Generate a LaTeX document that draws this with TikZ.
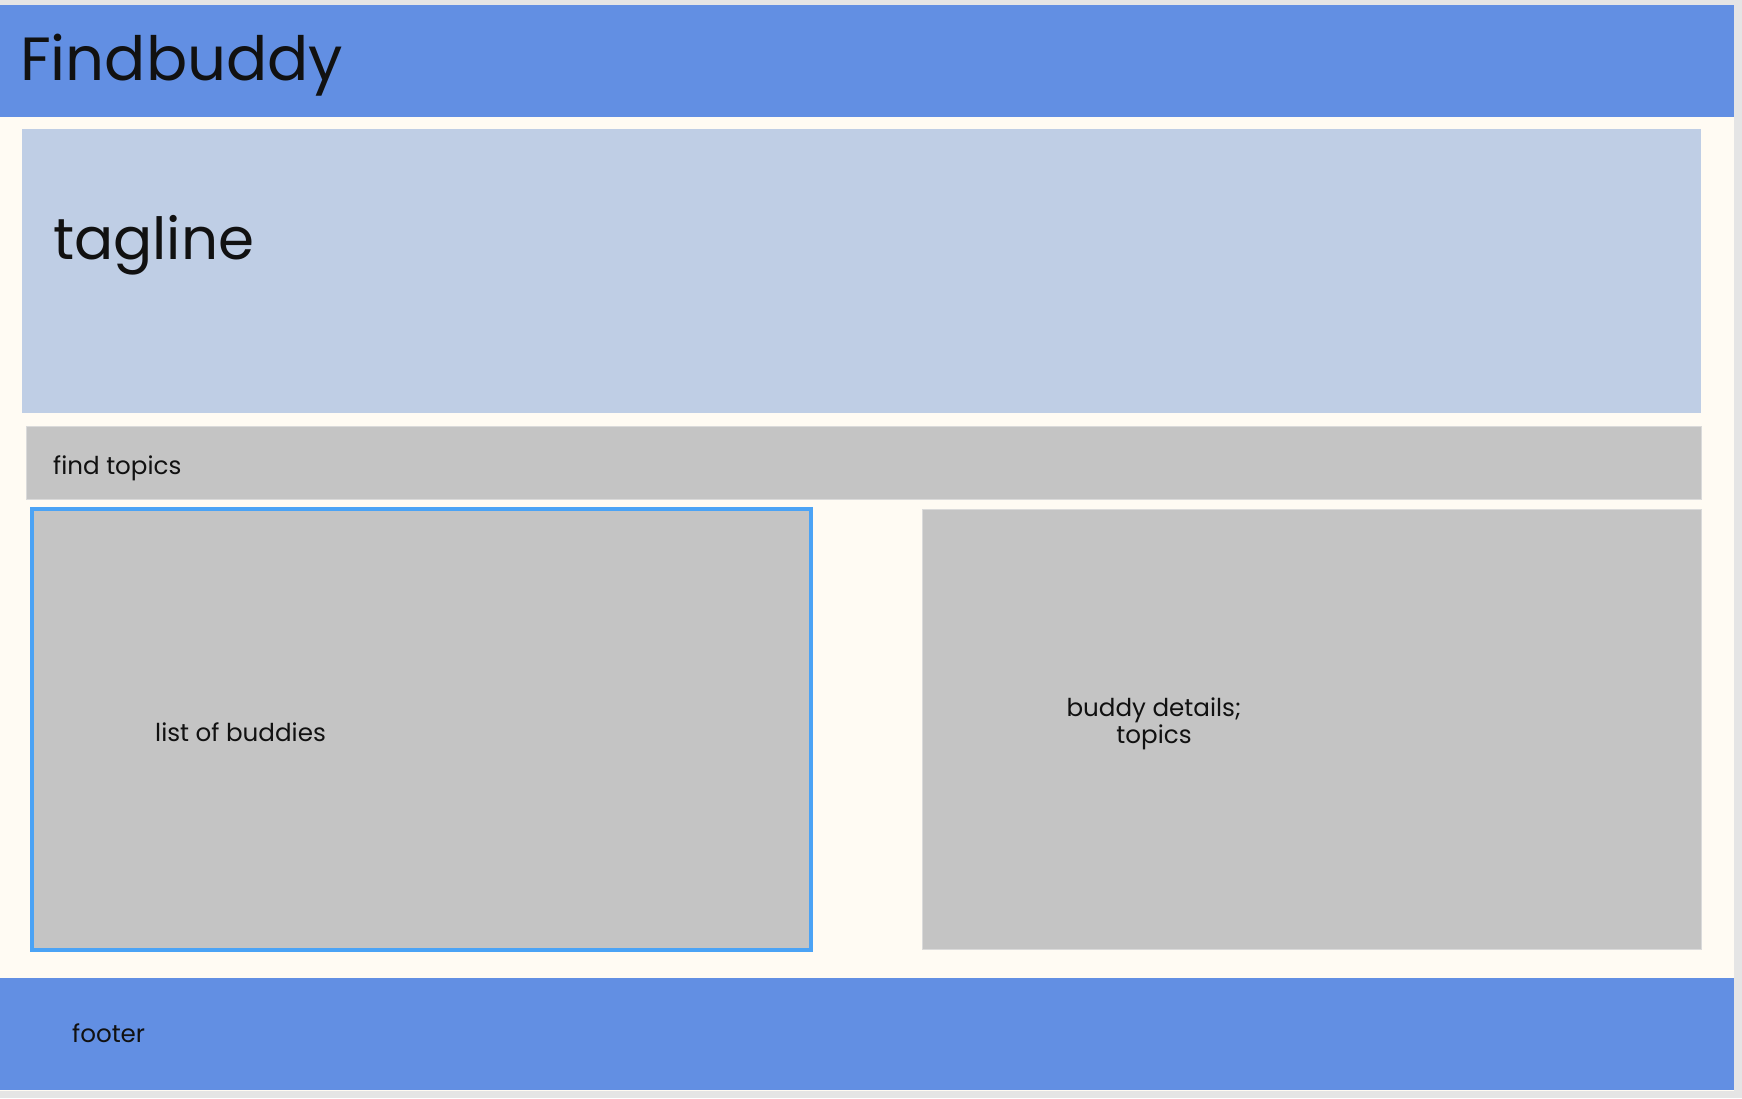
\documentclass[tikz,border=0pt]{standalone}
\usepackage{fontspec}
\setmainfont{Poppins}
\definecolor{outergray}{HTML}{E5E5E5}
\definecolor{cream}{HTML}{FFFBF3}
\definecolor{barblue}{HTML}{628FE3}
\definecolor{heroblue}{HTML}{BFCEE5}
\definecolor{panelgray}{HTML}{C4C4C4}
\definecolor{paneledge}{HTML}{DADADA}
\definecolor{selblue}{HTML}{4BA3F5}
\definecolor{ink}{HTML}{111111}
\tikzset{
  region/.style={rectangle, inner sep=0pt, outer sep=0pt, anchor=north west},
  bar/.style={region, fill=barblue},
  panel/.style={region, fill=panelgray, draw=paneledge, line width=1pt},
  label/.style={inner sep=0pt, anchor=base west, text=ink, font=\fontsize{24.6}{27}\selectfont},
}
\begin{document}
\begin{tikzpicture}[x=1pt,y=-1pt]
  \fill[outergray] (0,0) rectangle (1742,1098);
  \useasboundingbox (0,0) rectangle (1742,1098);
  \fill[cream] (0,5) rectangle (1734,1091);
  % header and footer bars
  \node[bar, minimum width=1734pt, minimum height=112pt] (header) at (0,5) {};
  \node[bar, minimum width=1734pt, minimum height=112pt] (footer) at (0,978) {};
  % hero area
  \node[region, fill=heroblue, minimum width=1679pt, minimum height=284pt] (hero) at (22,129) {};
  % search strip
  \node[panel, minimum width=1675pt, minimum height=73pt] (search) at (26,426) {};
  % buddy list (selected) and details panes
  \node[region, fill=panelgray, draw=selblue, line width=4pt, minimum width=779pt, minimum height=441pt] (list) at (32,509) {};
  \node[panel, minimum width=779pt, minimum height=440pt] (details) at (922,509) {};
  % texts
  \node[label, font=\fontsize{61}{70}\selectfont] (title) at (20,80) {Findbuddy};
  \node[label, font=\fontsize{58}{64}\selectfont] (tag) at (53,259) {tagline};
  \node[label] (findt) at (53,474) {find topics};
  \node[label] (listt) at (155,741) {list of buddies};
  \node[label, anchor=base, align=center] (dett) at (1154,743) {buddy details;\\topics};
  \node[label] (foot) at (72,1042) {footer};
\end{tikzpicture}
\end{document}
